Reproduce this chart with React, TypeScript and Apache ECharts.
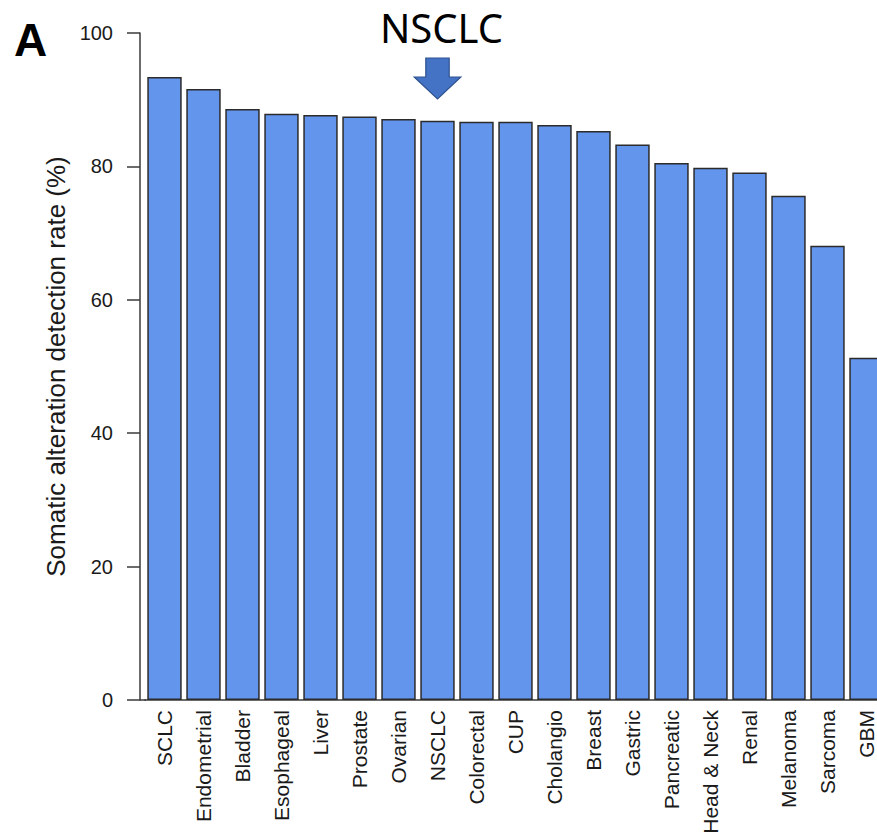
import React, { useEffect, useRef } from "react";
import * as echarts from "echarts";

const categories = [
  "SCLC", "Endometrial", "Bladder", "Esophageal", "Liver", "Prostate", "Ovarian",
  "NSCLC", "Colorectal", "CUP", "Cholangio", "Breast", "Gastric", "Pancreatic",
  "Head & Neck", "Renal", "Melanoma", "Sarcoma", "GBM",
];
const rates = [
  93.4, 91.6, 88.6, 87.9, 87.7, 87.5, 87.1, 86.85, 86.7, 86.7, 86.2, 85.3, 83.3,
  80.5, 79.8, 79.1, 75.6, 68.1, 51.3,
];
const yTicks = { min: 0, max: 100, interval: 20 };
const highlight = "NSCLC";
const panelLabel = "A";
const yName = "Somatic alteration detection rate (%)";

const FONT = "'Liberation Sans', Arial, sans-serif";
const AXIS_COLOR = "#3a3a3a";

export default function App() {
  const ref = useRef<HTMLDivElement>(null);
  useEffect(() => {
    if (!ref.current) return;
    const chart = echarts.init(ref.current, undefined, { renderer: "svg" });
    const GRID_LEFT = 145;
    const Y_OFFSET = 5;
    chart.setOption({
      animation: false,
      backgroundColor: "#ffffff",
      grid: { left: GRID_LEFT, right: 14, top: 33, bottom: 137, containLabel: false },
      xAxis: {
        type: "category",
        data: categories,
        boundaryGap: true,
        axisLine: { show: true, lineStyle: { color: AXIS_COLOR, width: 1.5 } },
        axisTick: { show: false },
        axisLabel: {
          interval: 0,
          rotate: 90,
          margin: 10,
          fontFamily: FONT,
          fontSize: 21,
          color: "#1a1a1a",
        },
      },
      yAxis: {
        type: "value",
        min: yTicks.min,
        max: yTicks.max,
        interval: yTicks.interval,
        offset: Y_OFFSET,
        name: yName,
        nameLocation: "middle",
        nameGap: 65,
        nameTextStyle: { fontFamily: FONT, fontSize: 26, color: "#1a1a1a" },
        axisLine: { show: true, lineStyle: { color: AXIS_COLOR, width: 1.5 } },
        axisTick: { show: true, length: 13, lineStyle: { color: AXIS_COLOR, width: 1.5 } },
        axisLabel: { margin: 27, fontFamily: FONT, fontSize: 20, color: "#1a1a1a" },
        splitLine: { show: false },
      },
      series: [
        {
          type: "bar",
          data: rates,
          barWidth: 34.4,
          itemStyle: { color: "#6495ED", borderColor: "#2b2b2b", borderWidth: 1.5 },
        },
      ],
    });

    const xNS = chart.convertToPixel({ xAxisIndex: 0 }, highlight) as number;
    const y0 = chart.convertToPixel({ yAxisIndex: 0 }, 0) as number;
    const tipY = 99;
    chart.setOption({
      graphic: [
        {
          type: "line",
          shape: { x1: GRID_LEFT - Y_OFFSET, y1: y0, x2: GRID_LEFT + 1, y2: y0 },
          style: { stroke: AXIS_COLOR, lineWidth: 1.5 },
        },
        {
          type: "text",
          x: 14,
          y: 40,
          style: {
            text: panelLabel,
            font: `bold 46px ${FONT}`,
            fill: "#000",
            textAlign: "left",
            textVerticalAlign: "middle",
          },
        },
        {
          type: "text",
          x: xNS + 4,
          y: 27,
          style: {
            text: highlight,
            font: `40px 'Noto Sans', 'Open Sans', sans-serif`,
            fill: "#000",
            textAlign: "center",
            textVerticalAlign: "middle",
          },
        },
        {
          type: "polygon",
          shape: {
            points: [
              [xNS - 11.7, tipY - 41],
              [xNS + 11.7, tipY - 41],
              [xNS + 11.7, tipY - 22],
              [xNS + 23.3, tipY - 22],
              [xNS, tipY],
              [xNS - 23.3, tipY - 22],
              [xNS - 11.7, tipY - 22],
            ],
          },
          style: { fill: "#4472C4", stroke: "#2F528F", lineWidth: 1.2 },
        },
      ],
    });
    return () => chart.dispose();
  }, []);
  return (
    <div
      ref={ref}
      style={{ position: "fixed", left: 0, top: 0, width: 900, height: 837 }}
    />
  );
}
